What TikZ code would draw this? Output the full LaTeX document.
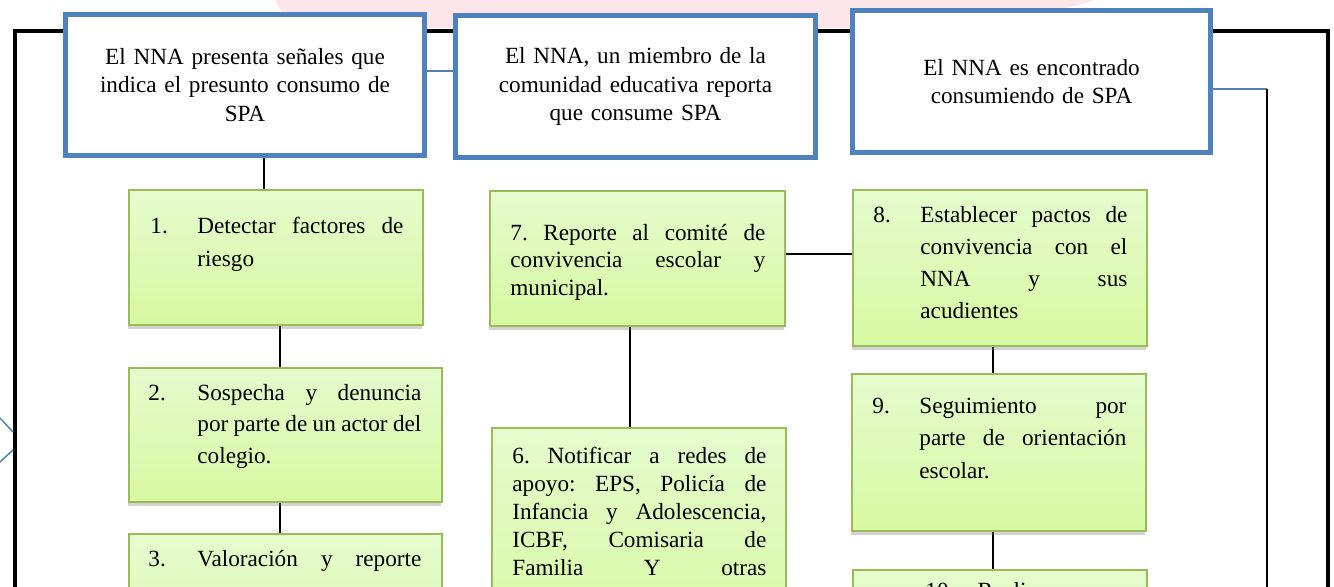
\documentclass[tikz,border=0pt]{standalone}
\usepackage{fontspec}
\setmainfont{Liberation Serif}
\usetikzlibrary{calc,positioning,shadows,backgrounds}
\definecolor{CaseBlue}{RGB}{79,129,189}
\definecolor{StepGreen}{RGB}{155,187,89}
\definecolor{StepTop}{RGB}{229,251,205}
\definecolor{StepBottom}{RGB}{215,249,162}
\definecolor{MarkPink}{RGB}{252,230,234}
\tolerance=10000
\hbadness=10000
\hyphenpenalty=10000
\frenchspacing

\begin{document}
\begin{tikzpicture}[x=0.5pt,y=-0.5pt,
    casebox/.style={draw=CaseBlue,line width=2.5pt,fill=white,align=center,
      inner sep=0pt,font=\fontsize{11.6pt}{14.25pt}\selectfont},
    stepbox/.style={draw=StepGreen,line width=1pt,top color=StepTop,
      bottom color=StepBottom,minimum width=147pt,inner sep=0pt,
      drop shadow={shadow xshift=-0.5pt,shadow yshift=-2pt,opacity=0.35}},
    steptext/.style={anchor=base west,inner sep=0pt,
      font=\fontsize{11.6pt}{16pt}\selectfont},
    link/.style={line width=0.75pt},
    bluelink/.style={CaseBlue,line width=0.75pt}]
  \useasboundingbox (0,0) rectangle (1334,586);

  % watermark and frame
  \fill[MarkPink] (275,0) .. controls (285,20) and (292,28) .. (320,28)
    -- (860,28) .. controls (960,28) and (1050,15) .. (1095,0) -- cycle;
  \coordinate (fbl) at (15,640);
  \coordinate (ftl) at (15,31);
  \coordinate (ftr) at (1328,31);
  \coordinate (fbr) at (1328,640);
  \draw[line width=2pt] (fbl) -- (ftl) -- (ftr) -- (fbr);
  \coordinate (ma) at (0,418);
  \coordinate (mb) at (13,432);
  \coordinate (mc) at (13,450);
  \coordinate (md) at (0,462);
  \draw[bluelink] (ma) -- (mb);
  \draw[bluelink] (mc) -- (md);

  % cases
  \node[casebox,minimum width=179.5pt,minimum height=70.5pt,text width=175pt]
    (qa) at (245,85) {El NNA presenta señales que\\indica el presunto consumo de\\SPA};
  \node[casebox,minimum width=180pt,minimum height=71pt,text width=175pt]
    (qb) at (635.5,86.5) {El NNA, un miembro de la\\comunidad educativa reporta\\que consume SPA};
  \node[casebox,minimum width=179pt,minimum height=71pt,text width=175pt]
    (qc) at (1031.5,81.5) {El NNA es encontrado\\consumiendo de SPA};

  % steps
  \node[stepbox,minimum height=67.5pt] (s1) at (276,257.5) {};
  \node[stepbox,minimum width=156.5pt,minimum height=67pt] (s2) at (285.5,435) {};
  \node[stepbox,minimum width=156.5pt,minimum height=90pt,anchor=north] (s3) at (285.5,533) {};
  \node[stepbox,minimum width=147.5pt,minimum height=67.5pt] (s7) at (637.5,258.5) {};
  \node[stepbox,minimum height=110pt,anchor=north] (s6) at (639,427) {};
  \node[stepbox,minimum height=78pt] (s8) at (1000,268) {};
  \node[stepbox,minimum height=78.5pt] (s9) at (999,452.5) {};
  \node[stepbox,minimum height=80pt,anchor=north] (s10) at (1000,569) {};

  \node[steptext,font=\fontsize{11.6pt}{16.5pt}\selectfont] (t1) at (150,233)
    {\makebox[23.5pt][l]{1.}\parbox[t]{103pt}{Detectar factores de\linebreak riesgo}};
  \node[steptext,font=\fontsize{11.6pt}{15.75pt}\selectfont] (t2) at (148,400)
    {\makebox[24.5pt][l]{2.}\parbox[t]{112pt}{Sospecha y denuncia\linebreak
     por parte de un actor del\linebreak colegio.}};
  \node[steptext] (t3) at (148,566)
    {\makebox[24.5pt][l]{3.}\makebox[112pt][s]{Valoración y reporte}};
  \node[steptext,font=\fontsize{11.6pt}{13.75pt}\selectfont] (t7) at (510,240)
    {\parbox[t]{127.5pt}{7. Reporte al comité de\linebreak convivencia escolar y\linebreak municipal.}};
  \node[steptext,font=\fontsize{11.6pt}{14pt}\selectfont] (t6) at (512,463)
    {\parbox[t]{127pt}{6. Notificar a redes de\linebreak apoyo: EPS, Policía de\linebreak
     Infancia y Adolescencia,\linebreak ICBF, Comisaria de\linebreak
     \makebox[127pt][s]{Familia Y otras}}};
  \node[steptext] (t8) at (873,222)
    {\makebox[23.5pt][l]{8.}\parbox[t]{103.5pt}{Establecer pactos de\linebreak
     convivencia con el\linebreak NNA y sus\linebreak acudientes}};
  \node[steptext,font=\fontsize{11.6pt}{16.25pt}\selectfont] (t9) at (872,413)
    {\makebox[23.5pt][l]{9.}\parbox[t]{103.5pt}{Seguimiento por\linebreak
     parte de orientación\linebreak escolar.}};
  \node[steptext] (t10) at (925,598) {10.\quad Realizar};

  % connectors
  \begin{scope}[on background layer]
    \draw[link] ([xshift=9.5pt]qa.south) -- ([xshift=9.5pt]qa.south |- s1.north);
    \draw[link] ([xshift=2pt]s1.south) -- ([xshift=2pt]s1.south |- s2.north);
    \draw[link] ([xshift=-2.75pt]s2.south) -- ([xshift=-2.75pt]s2.south |- s3.north);
    \draw[link] ([xshift=-3.75pt]s7.south) -- ([xshift=-3.75pt]s7.south |- s6.north);
    \draw[link] ([yshift=2.25pt]s7.east) -- ([yshift=2.25pt]s7.east -| s8.west);
    \draw[link] ([xshift=-3.5pt]s8.south) -- ([xshift=-3.5pt]s8.south |- s9.north);
    \draw[link] ([xshift=-3pt]s9.south) -- ([xshift=-3pt]s9.south |- s10.north);
    \draw[bluelink] ([yshift=7pt]qa.east) -- ([yshift=7pt]qa.east -| qb.west);
    \coordinate (cend) at (1267,640);
    \draw[bluelink] ([yshift=-3.75pt]qc.east) -- ([yshift=-3.75pt]qc.east -| cend)
      coordinate (cturn);
    \draw[link] (cturn) -- (cend);
  \end{scope}
\end{tikzpicture}
\end{document}
